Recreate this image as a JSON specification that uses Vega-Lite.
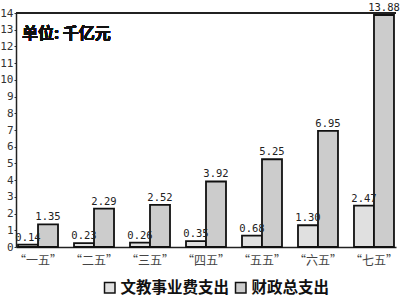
{
  "$schema": "https://vega.github.io/schema/vega-lite/v6.json",
  "width": 380,
  "height": 234,
  "autosize": "none",
  "padding": {"left": 16, "top": 13, "right": 4, "bottom": 50},
  "background": "white",
  "data": {
    "values": [
      {"period": "“一五”", "series": "文教事业费支出", "value": 0.14},
      {"period": "“一五”", "series": "财政总支出", "value": 1.35},
      {"period": "“二五”", "series": "文教事业费支出", "value": 0.23},
      {"period": "“二五”", "series": "财政总支出", "value": 2.29},
      {"period": "“三五”", "series": "文教事业费支出", "value": 0.26},
      {"period": "“三五”", "series": "财政总支出", "value": 2.52},
      {"period": "“四五”", "series": "文教事业费支出", "value": 0.35},
      {"period": "“四五”", "series": "财政总支出", "value": 3.92},
      {"period": "“五五”", "series": "文教事业费支出", "value": 0.68},
      {"period": "“五五”", "series": "财政总支出", "value": 5.25},
      {"period": "“六五”", "series": "文教事业费支出", "value": 1.30},
      {"period": "“六五”", "series": "财政总支出", "value": 6.95},
      {"period": "“七五”", "series": "文教事业费支出", "value": 2.47},
      {"period": "“七五”", "series": "财政总支出", "value": 13.88}
    ]
  },
  "encoding": {
    "x": {
      "field": "period",
      "type": "nominal",
      "sort": null,
      "scale": {"paddingInner": 0.2857, "paddingOuter": 0.036},
      "axis": {
        "title": null,
        "labelAngle": 0,
        "ticks": false,
        "labelPadding": 8,
        "labelFont": "Noto Sans CJK SC",
        "labelFontSize": 12,
        "labelColor": "#444",
        "domainColor": "#222",
        "domainWidth": 1.5
      }
    },
    "xOffset": {
      "field": "series",
      "type": "nominal",
      "sort": ["文教事业费支出", "财政总支出"],
      "scale": {"paddingInner": 0, "paddingOuter": 0}
    },
    "y": {
      "field": "value",
      "type": "quantitative",
      "scale": {"domain": [0, 14], "nice": false},
      "axis": {
        "title": null,
        "values": [0,1,2,3,4,5,6,7,8,9,10,11,12,13,14],
        "grid": false,
        "tickSize": 2,
        "tickColor": "#333",
        "labelPadding": 1,
        "labelFont": "DejaVu Sans Mono",
        "labelFontSize": 11,
        "labelColor": "#333",
        "domainColor": "#222",
        "domainWidth": 1.5
      }
    }
  },
  "layer": [
    {
      "mark": {"type": "bar", "stroke": "#111", "strokeWidth": 1.8},
      "encoding": {
        "fill": {
          "field": "series",
          "type": "nominal",
          "sort": ["文教事业费支出", "财政总支出"],
          "scale": {"domain": ["文教事业费支出", "财政总支出"], "range": ["#e0e0e0", "#cccccc"]},
          "legend": {
            "title": null,
            "orient": "none",
            "legendX": 86,
            "legendY": 267,
            "direction": "horizontal",
            "gridAlign": "none",
            "symbolType": "square",
            "symbolSize": 110,
            "symbolStrokeColor": "#111",
            "symbolStrokeWidth": 1.5,
            "labelFont": "Noto Sans CJK SC",
            "labelFontSize": 15.5,
            "labelFontWeight": "bold",
            "labelColor": "#111",
            "columnPadding": 2,
            "labelOffset": 3
          }
        }
      }
    },
    {
      "mark": {"type": "text", "dy": -7, "font": "DejaVu Sans Mono", "fontSize": 10.5, "color": "#222"},
      "encoding": {
        "text": {"field": "value", "type": "quantitative", "format": ".2f"}
      }
    },
    {
      "mark": {"type": "rule", "color": "#222", "strokeWidth": 1.5},
      "encoding": {"y": {"datum": 14}, "x": null, "xOffset": null}
    },
    {
      "mark": {"type": "text", "align": "left", "baseline": "middle", "font": "Noto Sans CJK SC", "fontSize": 16, "fontWeight": "bold", "color": "#111", "dx": -16},
      "encoding": {
        "x": {"datum": "“一五”"},
        "xOffset": null,
        "y": {"datum": 12.75},
        "text": {"value": "单位: 千亿元"}
      }
    }
  ],
  "config": {"view": {"stroke": null}}
}
